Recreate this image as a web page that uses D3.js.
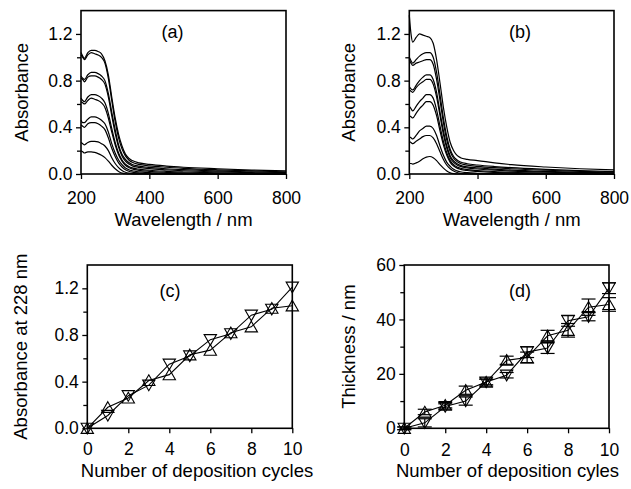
<!DOCTYPE html>
<html>
<head>
<meta charset="utf-8">
<script src="https://cdn.jsdelivr.net/npm/d3@7"></script>
<style>
  body { margin: 0; background: #fff; }
  svg { display: block; font-family: "Liberation Sans", Arial, Helvetica, sans-serif; }
</style>
</head>
<body>
<div id="chart"></div>
<script>
// ---- data ----
const WAVELENGTHS = [200, 205, 210, 220, 230, 240, 250, 260, 270, 280, 290, 300, 310, 320, 330, 340, 350, 370, 400, 450, 500, 600, 700, 800];

// (a) one row per deposition cycle
const SPECTRA_A = [
  [0.20, 0.19, 0.18, 0.19, 0.19, 0.185, 0.175, 0.16, 0.14, 0.11, 0.075, 0.045, 0.022, 0.008, 0.002, 0, 0, 0, 0, 0, 0, 0, 0, 0],
  [0.27, 0.26, 0.25, 0.27, 0.28, 0.28, 0.275, 0.26, 0.24, 0.20, 0.14, 0.09, 0.055, 0.03, 0.015, 0.007, 0.003, 0, 0, 0, 0, 0, 0, 0],
  [0.42, 0.41, 0.40, 0.43, 0.44, 0.44, 0.43, 0.41, 0.38, 0.31, 0.22, 0.15, 0.095, 0.06, 0.037, 0.024, 0.016, 0.008, 0.003, 0, 0, 0, 0, 0],
  [0.46, 0.44, 0.44, 0.47, 0.49, 0.49, 0.48, 0.46, 0.43, 0.36, 0.26, 0.18, 0.12, 0.08, 0.052, 0.037, 0.028, 0.018, 0.011, 0.006, 0.003, 0, 0, 0],
  [0.62, 0.61, 0.60, 0.63, 0.65, 0.64, 0.63, 0.61, 0.57, 0.48, 0.36, 0.25, 0.165, 0.11, 0.075, 0.055, 0.043, 0.031, 0.022, 0.014, 0.009, 0.004, 0.002, 0.001],
  [0.65, 0.63, 0.62, 0.66, 0.68, 0.68, 0.67, 0.65, 0.61, 0.52, 0.39, 0.27, 0.18, 0.12, 0.085, 0.065, 0.053, 0.041, 0.032, 0.023, 0.017, 0.009, 0.005, 0.003],
  [0.82, 0.81, 0.79, 0.83, 0.84, 0.84, 0.83, 0.81, 0.77, 0.66, 0.50, 0.35, 0.23, 0.155, 0.11, 0.085, 0.07, 0.056, 0.046, 0.036, 0.028, 0.018, 0.011, 0.007],
  [0.84, 0.82, 0.81, 0.85, 0.87, 0.87, 0.86, 0.84, 0.80, 0.69, 0.53, 0.38, 0.25, 0.17, 0.125, 0.098, 0.082, 0.067, 0.056, 0.045, 0.037, 0.026, 0.018, 0.012],
  [1.02, 1.00, 0.98, 1.02, 1.04, 1.03, 1.02, 1.00, 0.95, 0.82, 0.63, 0.45, 0.31, 0.215, 0.155, 0.12, 0.10, 0.082, 0.07, 0.058, 0.049, 0.036, 0.026, 0.019],
  [1.04, 1.01, 0.99, 1.04, 1.06, 1.06, 1.05, 1.03, 0.97, 0.85, 0.66, 0.48, 0.34, 0.24, 0.17, 0.135, 0.115, 0.095, 0.082, 0.068, 0.058, 0.045, 0.034, 0.026]
];

// (b)
const SPECTRA_B = [
  [0.09, 0.09, 0.085, 0.095, 0.11, 0.13, 0.145, 0.15, 0.14, 0.115, 0.08, 0.05, 0.025, 0.01, 0.003, 0, 0, 0, 0, 0, 0, 0, 0, 0],
  [0.28, 0.27, 0.26, 0.28, 0.30, 0.32, 0.33, 0.33, 0.31, 0.26, 0.19, 0.125, 0.075, 0.045, 0.025, 0.013, 0.006, 0.002, 0, 0, 0, 0, 0, 0],
  [0.32, 0.31, 0.30, 0.33, 0.37, 0.39, 0.41, 0.41, 0.39, 0.33, 0.24, 0.16, 0.10, 0.065, 0.04, 0.027, 0.019, 0.011, 0.006, 0.002, 0, 0, 0, 0],
  [0.50, 0.49, 0.48, 0.52, 0.56, 0.59, 0.62, 0.62, 0.59, 0.50, 0.37, 0.25, 0.16, 0.10, 0.068, 0.05, 0.04, 0.03, 0.022, 0.014, 0.009, 0.004, 0.002, 0.001],
  [0.58, 0.56, 0.54, 0.58, 0.62, 0.65, 0.68, 0.68, 0.65, 0.55, 0.41, 0.28, 0.18, 0.115, 0.08, 0.06, 0.049, 0.038, 0.03, 0.021, 0.015, 0.008, 0.004, 0.002],
  [0.72, 0.71, 0.70, 0.74, 0.77, 0.79, 0.81, 0.81, 0.77, 0.66, 0.50, 0.34, 0.22, 0.14, 0.10, 0.078, 0.065, 0.052, 0.043, 0.033, 0.025, 0.015, 0.009, 0.005],
  [0.75, 0.73, 0.72, 0.76, 0.80, 0.83, 0.85, 0.85, 0.81, 0.70, 0.53, 0.37, 0.24, 0.155, 0.112, 0.088, 0.074, 0.061, 0.052, 0.041, 0.033, 0.022, 0.014, 0.009],
  [0.98, 0.95, 0.93, 0.95, 0.96, 0.97, 0.98, 0.98, 0.94, 0.81, 0.63, 0.44, 0.29, 0.19, 0.135, 0.106, 0.09, 0.076, 0.066, 0.054, 0.045, 0.032, 0.022, 0.015],
  [1.00, 0.97, 0.95, 0.98, 1.01, 1.03, 1.04, 1.04, 1.00, 0.87, 0.68, 0.48, 0.32, 0.21, 0.15, 0.12, 0.103, 0.088, 0.077, 0.064, 0.054, 0.04, 0.029, 0.021],
  [1.36, 1.20, 1.13, 1.17, 1.20, 1.19, 1.18, 1.17, 1.12, 0.98, 0.78, 0.57, 0.40, 0.27, 0.20, 0.16, 0.14, 0.125, 0.115, 0.095, 0.08, 0.06, 0.045, 0.035]
];

const CYCLES = [0, 1, 2, 3, 4, 5, 6, 7, 8, 9, 10];

// (c) absorbance at 228 nm
const ABS_DOWN = [0.00, 0.11, 0.28, 0.37, 0.55, 0.62, 0.76, 0.81, 0.97, 1.02, 1.21];
const ABS_UP   = [0.00, 0.18, 0.26, 0.41, 0.46, 0.63, 0.67, 0.82, 0.87, 1.03, 1.05];

// (d) thickness
const THK_DOWN = [0, 2, 8, 10, 17, 19.5, 28, 29.5, 39.5, 41, 51.5];
const THK_DOWN_ERR = [0.5, 1.5, 1, 1.5, 1.5, 1, 2, 2, 2, 1.5, 2];
const THK_UP   = [0, 6, 8.5, 14, 17, 25, 26, 34, 36, 44.5, 45.5];
const THK_UP_ERR = [0.5, 1, 1, 1.5, 1, 1.5, 2, 2, 2.5, 3, 2.5];

const ABS_TICKS = [0, 0.4, 0.8, 1.2];
const ABS_MINOR = [0.2, 0.6, 1.0];
const WL_TICKS = [200, 400, 600, 800];
const CYCLE_TICKS = [0, 2, 4, 6, 8, 10];
const THK_TICKS = [0, 20, 40, 60];
const THK_MINOR = [10, 30, 50];

// ---- layout ----
const WIDTH = 631;
const HEIGHT = 489;
const TICK_FONT = 17.5;
const LABEL_FONT = 18.5;

const svg = d3.select('#chart').append('svg')
  .attr('width', WIDTH)
  .attr('height', HEIGHT);

class Panel {
  g = null;
  x = null;
  y = null;
  box = null;
  constructor(box) {
    this.box = box;
    this.g = svg.append('g');
  }
  scales(xDomain, yDomain) {
    this.x = d3.scaleLinear().domain(xDomain).range([this.box.left, this.box.right]);
    this.y = d3.scaleLinear().domain(yDomain).range([this.box.bottom, this.box.top]);
    return this;
  }
  axes(xTicks, yTicks, yMinor, yFormat, xLabelGap) {
    const xa = this.g.append('g')
      .attr('transform', `translate(0,${this.box.bottom})`)
      .call(d3.axisBottom(this.x).tickValues(xTicks).tickSize(5).tickPadding(xLabelGap).tickFormat(d3.format('d')));
    const ya = this.g.append('g')
      .attr('transform', `translate(${this.box.left},0)`)
      .call(d3.axisLeft(this.y).tickValues(yTicks).tickSize(5).tickPadding(3.5).tickFormat(yFormat));
    this.g.append('g')
      .attr('transform', `translate(${this.box.left},0)`)
      .call(d3.axisLeft(this.y).tickValues(yMinor).tickSize(4).tickFormat(''))
      .call(g => g.select('.domain').remove());
    [xa, ya].forEach(a => {
      a.select('.domain').remove();
      a.selectAll('line').attr('stroke', '#000').attr('stroke-width', 1.3);
      a.selectAll('text').attr('font-size', TICK_FONT).attr('fill', '#000').attr('font-family', null);
    });
    this.g.selectAll('.tick line').attr('stroke', '#000').attr('stroke-width', 1.3);
    this.g.selectAll('g').attr('font-family', null);
    return this;
  }
  frame() {
    this.g.append('rect')
      .attr('x', this.box.left).attr('y', this.box.top)
      .attr('width', this.box.right - this.box.left)
      .attr('height', this.box.bottom - this.box.top)
      .attr('fill', 'none').attr('stroke', '#000').attr('stroke-width', 1.6);
    return this;
  }
  labels(xText, xCenter, xBase, yText, yBase, tag, tagX, tagY) {
    this.g.append('text')
      .attr('x', xCenter).attr('y', xBase)
      .attr('text-anchor', 'middle').attr('font-size', LABEL_FONT)
      .text(xText);
    this.g.append('text')
      .attr('transform', `translate(${yBase},${(this.box.top + this.box.bottom) / 2}) rotate(-90)`)
      .attr('text-anchor', 'middle').attr('font-size', LABEL_FONT)
      .text(yText);
    this.g.append('text')
      .attr('x', tagX).attr('y', tagY)
      .attr('text-anchor', 'middle').attr('font-size', 18)
      .text(tag);
    return this;
  }
  spectra(rows) {
    const line = d3.line()
      .x((d, i) => this.x(WAVELENGTHS[i]))
      .y(d => this.y(d))
      .curve(d3.curveMonotoneX);
    this.g.append('g').selectAll('path')
      .data(rows)
      .join('path')
      .attr('d', line)
      .attr('fill', 'none').attr('stroke', '#000').attr('stroke-width', 1.2);
    return this;
  }
  series(values, down, errors) {
    const line = d3.line().x((d, i) => this.x(CYCLES[i])).y(d => this.y(d));
    const marker = d3.symbol(d3.symbolTriangle, 66);
    const g = this.g.append('g');
    if (errors) {
      const eb = g.selectAll('g.err')
        .data(values.map((v, i) => ({ c: CYCLES[i], v, e: errors[i] })))
        .join('g').attr('class', 'err')
        .attr('stroke', '#000').attr('stroke-width', 1.2);
      eb.append('line')
        .attr('x1', d => this.x(d.c)).attr('x2', d => this.x(d.c))
        .attr('y1', d => this.y(d.v - d.e)).attr('y2', d => this.y(d.v + d.e));
      [-1, 1].forEach(s => {
        eb.append('line')
          .attr('x1', d => this.x(d.c) - 7).attr('x2', d => this.x(d.c) + 7)
          .attr('y1', d => this.y(d.v + s * d.e)).attr('y2', d => this.y(d.v + s * d.e));
      });
    }
    g.selectAll('path.mk')
      .data(values)
      .join('path').attr('class', 'mk')
      .attr('d', marker)
      .attr('transform', (d, i) => `translate(${this.x(CYCLES[i])},${this.y(d) + (down ? -1 : 1) * 1.5})${down ? ' rotate(180)' : ''}`)
      .attr('fill', 'none').attr('stroke', '#000').attr('stroke-width', 1.1);
    g.append('path')
      .attr('d', line(values))
      .attr('fill', 'none').attr('stroke', '#000').attr('stroke-width', 1.1);
    return this;
  }
}

const fmt1 = d3.format('.1f');

new Panel({ left: 81, right: 286, top: 10.6, bottom: 174 })
  .scales([200, 800], [0, 1.4])
  .spectra(SPECTRA_A)
  .axes(WL_TICKS, ABS_TICKS, ABS_MINOR, fmt1, 12.5)
  .frame()
  .labels('Wavelength / nm', 183.5, 226, 'Absorbance', 28.3, '(a)', 172.5, 37.5);

new Panel({ left: 409.3, right: 614, top: 10.6, bottom: 174 })
  .scales([200, 800], [0, 1.4])
  .spectra(SPECTRA_B)
  .axes(WL_TICKS, ABS_TICKS, ABS_MINOR, fmt1, 12.5)
  .frame()
  .labels('Wavelength / nm', 511.7, 226, 'Absorbance', 355, '(b)', 520, 37.5);

new Panel({ left: 87.3, right: 292.3, top: 265, bottom: 428.3 })
  .scales([0, 10], [0, 1.4])
  .series(ABS_DOWN, true)
  .series(ABS_UP, false)
  .axes(CYCLE_TICKS, ABS_TICKS, ABS_MINOR, fmt1, 9)
  .frame()
  .labels('Number of deposition cycles', 197, 476.5, 'Absorbance at 228 nm', 27, '(c)', 170, 297);

new Panel({ left: 404.3, right: 609, top: 265, bottom: 428.3 })
  .scales([0, 10], [0, 60])
  .series(THK_DOWN, true, THK_DOWN_ERR)
  .series(THK_UP, false, THK_UP_ERR)
  .axes(CYCLE_TICKS, THK_TICKS, THK_MINOR, d3.format('d'), 10)
  .frame()
  .labels('Number of deposition cyles', 507.5, 476.5, 'Thickness / nm', 355, '(d)', 520, 297);
</script>
</body>
</html>
